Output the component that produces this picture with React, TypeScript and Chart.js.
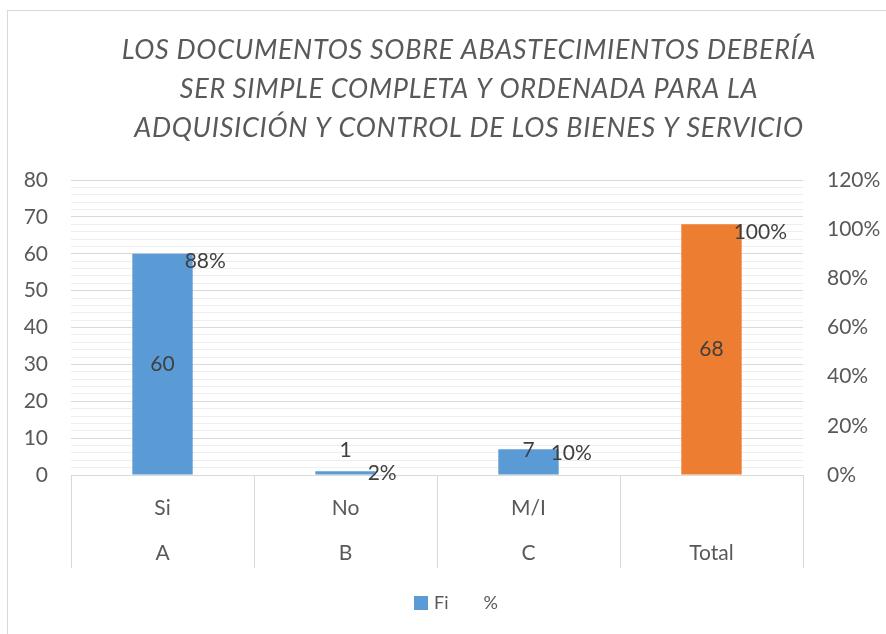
import React, { useEffect, useRef } from 'react';
import { Chart, registerables } from 'chart.js';

Chart.register(...registerables);

const titleLines = [
  'LOS DOCUMENTOS SOBRE ABASTECIMIENTOS DEBERÍA',
  'SER SIMPLE COMPLETA Y ORDENADA PARA LA',
  'ADQUISICIÓN Y CONTROL DE LOS BIENES Y SERVICIO',
];
const answers = ['Si', 'No', 'M/I', ''];
const groups = ['A', 'B', 'C', 'Total'];
const fiValues = [60, 1, 7, 68];
const pctValues = [0.88, 0.02, 0.1, 1.0];
const barColors = ['#5b9bd5', '#5b9bd5', '#5b9bd5', '#ed7d31'];
const leftMax = 80;
const rightMax = 1.2;

const FONT = 'Lato, "Liberation Sans", sans-serif';
const TEXT = '#595959';
const LABEL = '#404040';

const framePlugin = {
  id: 'frame',
  beforeDraw(chart: any) {
    const ctx = chart.ctx;
    ctx.save();
    ctx.fillStyle = '#ffffff';
    ctx.fillRect(0, 0, chart.width, chart.height);
    ctx.strokeStyle = '#d9d9d9';
    ctx.lineWidth = 1;
    ctx.strokeRect(7.5, 10.5, chart.width + 20, chart.height + 20);
    ctx.restore();
  },
  afterDraw(chart: any) {
    const ctx = chart.ctx;
    const area = chart.chartArea;
    const x = chart.scales.x;
    ctx.save();
    // title
    ctx.font = `italic 27px ${FONT}`;
    (ctx as any).letterSpacing = '0.7px';
    ctx.fillStyle = TEXT;
    ctx.textAlign = 'center';
    ctx.textBaseline = 'middle';
    titleLines.forEach((t, i) => ctx.fillText(t, 469, 50 + i * 39));
    (ctx as any).letterSpacing = '0px';
    // category labels (two levels)
    ctx.font = `21px ${FONT}`;
    groups.forEach((g, i) => {
      const px = x.getPixelForValue(i);
      ctx.fillText(answers[i], px, area.bottom + 33);
      ctx.fillText(g, px, area.bottom + 78);
    });
    // legend
    ctx.font = `18px ${FONT}`;
    ctx.textAlign = 'left';
    let lx = 414;
    const ly = area.bottom + 128;
    chart.data.datasets.forEach((ds: any, i: number) => {
      const color = i === 0 ? barColors[0] : ds.backgroundColor;
      ctx.fillStyle = color;
      ctx.fillRect(lx, ly - 7, 14, 14);
      ctx.fillStyle = TEXT;
      ctx.fillText(ds.label, lx + 20, ly);
      lx += 20 + ctx.measureText(ds.label).width + 15;
    });
    ctx.restore();
  },
};

const labelsPlugin = {
  id: 'barLabels',
  afterDatasetsDraw(chart: any) {
    const ctx = chart.ctx;
    const meta = chart.getDatasetMeta(0);
    const y1 = chart.scales.y1;
    ctx.save();
    ctx.font = `21px ${FONT}`;
    ctx.fillStyle = LABEL;
    ctx.textBaseline = 'middle';
    meta.data.forEach((bar: any, i: number) => {
      const { x, y, base, width } = bar.getProps(['x', 'y', 'base', 'width'], true);
      const h = base - y;
      const cy = h > 40 ? (y + base) / 2 : base - 24;
      ctx.textAlign = 'center';
      ctx.fillText(String(fiValues[i]), x, cy);
      ctx.textAlign = 'left';
      ctx.fillText(
        Math.round(pctValues[i] * 100) + '%',
        x + width / 2 - 8,
        y1.getPixelForValue(pctValues[i]) + 3
      );
    });
    ctx.restore();
  },
};

export default function App() {
  const ref = useRef<HTMLCanvasElement>(null);
  useEffect(() => {
    const chart = new Chart(ref.current!, {
      type: 'bar',
      data: {
        labels: groups,
        datasets: [
          {
            label: 'Fi',
            data: fiValues,
            yAxisID: 'y',
            backgroundColor: (c: any) => (c.type === 'data' ? barColors[c.dataIndex] : barColors[0]),
            borderWidth: 0,
          },
          {
            label: '%',
            data: pctValues,
            yAxisID: 'y1',
            backgroundColor: 'rgba(0,0,0,0)',
            borderColor: 'rgba(0,0,0,0)',
            borderWidth: 0,
          },
        ],
      },
      options: {
        responsive: false,
        animation: false,
        devicePixelRatio: 1,
        datasets: { bar: { grouped: false, categoryPercentage: 1, barPercentage: 0.33 } },
        layout: { padding: { top: 180, left: 0, right: 0, bottom: 66 } },
        plugins: {
          title: { display: false },
          tooltip: { enabled: false },
          legend: { display: false },
        },
        scales: {
          x: {
            type: 'category',
            offset: true,
            grid: { offset: true, drawOnChartArea: false, tickLength: 93, color: '#d9d9d9' },
            border: { color: '#d9d9d9' },
            ticks: { display: false },
          },
          y: {
            position: 'left',
            min: 0,
            max: leftMax,
            ticks: {
              stepSize: 2,
              autoSkip: false,
              padding: 23,
              color: TEXT,
              font: { family: FONT, size: 21 },
              callback: (v: any) => (Number(v) % 10 === 0 ? String(v) : ''),
            },
            grid: {
              drawTicks: false,
              color: (c: any) => (c.tick && c.tick.value % 10 === 0 ? '#d9d9d9' : '#eeeeee'),
            },
            border: { display: false },
            afterFit: (s: any) => {
              s.width = 71;
            },
          },
          y1: {
            position: 'right',
            min: 0,
            max: rightMax,
            ticks: {
              stepSize: 0.2,
              padding: 24,
              color: TEXT,
              font: { family: FONT, size: 21 },
              callback: (v: any) => Math.round(Number(v) * 100) + '%',
            },
            grid: { display: false, drawTicks: false },
            border: { display: false },
            afterFit: (s: any) => {
              s.width = 83;
            },
          },
        },
      },
      plugins: [framePlugin, labelsPlugin],
    } as any);
    return () => chart.destroy();
  }, []);
  return (
    <div style={{ position: 'absolute', left: 0, top: 0, width: 886, height: 634 }}>
      <canvas ref={ref} width={886} height={634} />
    </div>
  );
}
